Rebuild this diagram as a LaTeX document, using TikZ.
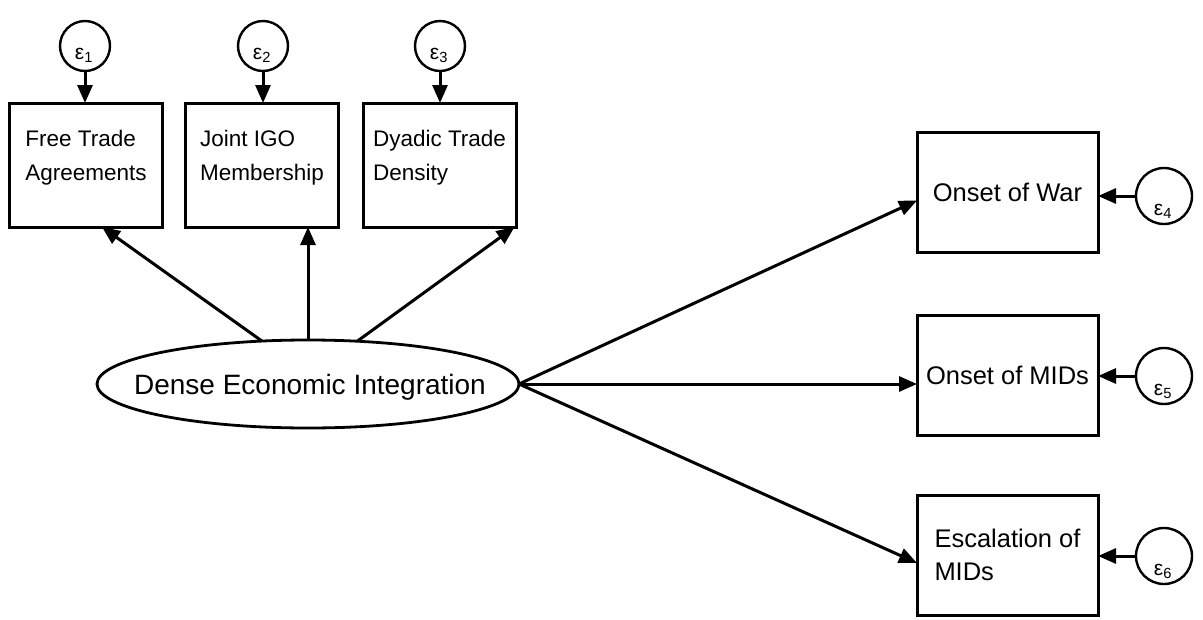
\documentclass[tikz,border=0pt]{standalone}
\usepackage{fontspec}
\setmainfont{Liberation Sans}
\usetikzlibrary{arrows.meta,shapes.geometric}

\tikzset{
  every node/.style={inner sep=0pt, outer sep=0pt},
  topbox/.style={draw, rectangle, line width=3pt, minimum width=153pt, minimum height=124pt},
  toptext/.style={align=left, font=\fontsize{22.5}{34}\selectfont},
  rightbox/.style={draw, rectangle, line width=3pt, minimum width=181pt, minimum height=120pt,
    align=left, font=\fontsize{25.5}{33}\selectfont},
  errtop/.style={draw, circle, line width=2.4pt, minimum size=50pt},
  errright/.style={draw, circle, line width=2.4pt, minimum size=56pt},
  epslab/.style={font=\fontsize{21}{23}\selectfont},
  latent/.style={draw, ellipse, line width=2.8pt, minimum width=422pt, minimum height=88pt},
  latenttext/.style={font=\fontsize{28}{32}\selectfont},
  arr/.style={line width=3pt, -{Triangle[length=18pt,width=15pt]}}
}

\begin{document}
\begin{tikzpicture}[x=1pt,y=-1pt]
\useasboundingbox (0,0) rectangle (1203,619);

% indicator boxes of the latent factor
\node[topbox] (b1) at (86,165) {};
\node[topbox] (b2) at (262,165) {};
\node[topbox] (b3) at (439.5,165) {};
\node[toptext] (t1) at ([yshift=7pt]b1.center) {Free Trade\\Agreements};
\node[toptext] (t2) at ([yshift=7pt]b2.center) {Joint IGO\\Membership};
\node[toptext] (t3) at ([yshift=7pt]b3.center) {Dyadic Trade\\Density};

% error terms of the indicators
\node[errtop] (e1) at (85,46) {};
\node[errtop] (e2) at (263,46) {};
\node[errtop] (e3) at (440,46) {};
\node[epslab] (l1) at ([shift={(-1pt,-9pt)}]e1.center) {ε\textsubscript{1}};
\node[epslab] (l2) at ([shift={(-1pt,-9pt)}]e2.center) {ε\textsubscript{2}};
\node[epslab] (l3) at ([shift={(-1pt,-9pt)}]e3.center) {ε\textsubscript{3}};

% latent factor
\node[latent] (dei) at (308,384) {};
\node[latenttext] (tdei) at ([shift={(2pt,-3pt)}]dei.center) {Dense Economic Integration};

% outcome boxes
\node[rightbox] (b4) at (1007.5,192.5) {Onset of War};
\node[rightbox] (b5) at (1007.5,375) {Onset of MIDs};
\node[rightbox] (b6) at (1007.5,555) {Escalation of\\MIDs};

% error terms of the outcomes
\node[errright] (e4) at (1164,196) {};
\node[errright] (e5) at (1164,376) {};
\node[errright] (e6) at (1164,556) {};
\node[epslab] (l4) at ([shift={(-1pt,-15pt)}]e4.center) {ε\textsubscript{4}};
\node[epslab] (l5) at ([shift={(-1pt,-15pt)}]e5.center) {ε\textsubscript{5}};
\node[epslab] (l6) at ([shift={(-1pt,-15pt)}]e6.center) {ε\textsubscript{6}};

% error paths
\draw[arr] (e1.south) -- (e1.south |- b1.north);
\draw[arr] (e2.south) -- (e2.south |- b2.north);
\draw[arr] (e3.south) -- (e3.south |- b3.north);
\draw[arr] (e4.west) -- (e4.west -| b4.east);
\draw[arr] (e5.west) -- (e5.west -| b5.east);
\draw[arr] (e6.west) -- (e6.west -| b6.east);

% loadings
\draw[arr] (dei.137) -- ([xshift=16pt]b1.south);
\draw[arr] (dei.north) -- (dei.north |- b2.south);
\draw[arr] (dei.41) -- ([xshift=75pt]b3.south);

% structural paths
\draw[arr] (dei.east) -- ([yshift=-8pt]b4.west);
\draw[arr] (dei.east) -- (dei.east -| b5.west);
\draw[arr] (dei.east) -- ([yshift=-8pt]b6.west);
\end{tikzpicture}
\end{document}
